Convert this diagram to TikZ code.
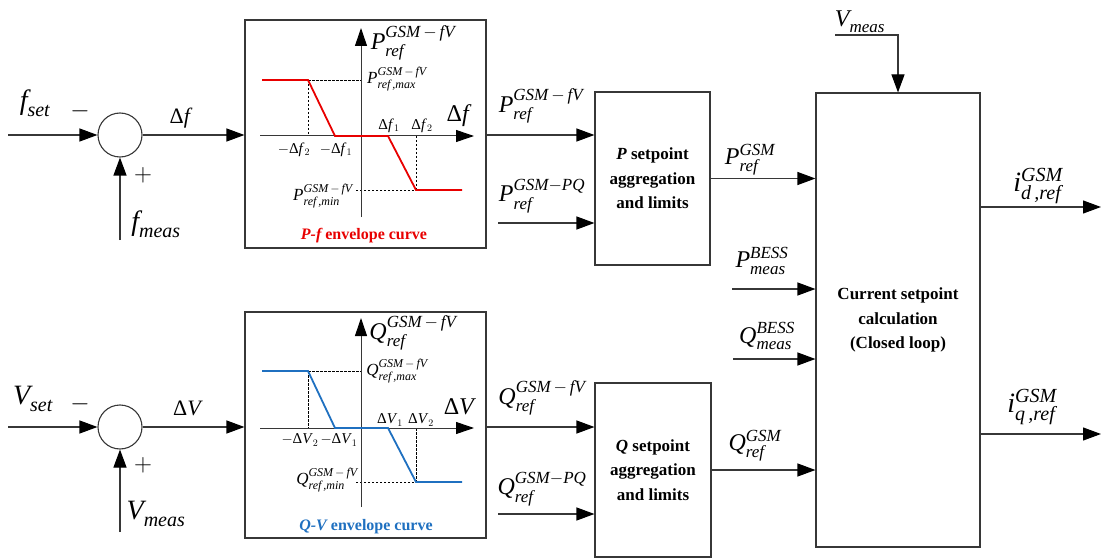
\documentclass[tikz,border=0pt]{standalone}
\usepackage{amsmath}
\usepackage{fontspec}
\setmainfont{Liberation Serif}
\usetikzlibrary{arrows.meta}
\DeclareMathSizes{28}{28}{20}{14}
\DeclareMathSizes{24}{24}{17}{13}
\DeclareMathSizes{22}{22}{15}{11}
\DeclareMathSizes{17}{17}{12}{9}
\DeclareMathSizes{15}{15}{10}{8}
\definecolor{lc}{RGB}{55,55,55}
\definecolor{cred}{RGB}{232,0,0}
\definecolor{cblue}{RGB}{31,112,192}
\newcommand\ii[1]{\textit{#1}}
\newcommand\sym[3]{\ensuremath{\textit{#1}^{#2}_{#3}}}
\begin{document}
\begin{tikzpicture}[x=1pt,y=-1pt,
  ln/.style={draw=lc,line width=1.1pt},
  arr/.style={ln,-{Triangle[length=18pt,width=13pt,color=black]}},
  axarr/.style={draw=lc,line width=1pt,-{Triangle[length=18pt,width=12pt,color=black]}},
  dsh/.style={draw=black,line width=0.6pt,dash pattern=on 2.5pt off 1.5pt},
  blk/.style={ln,inner sep=0pt},
  blktext/.style={blk,font=\fontsize{17}{24.5}\selectfont\bfseries,align=center},
  sumnode/.style={ln,circle,minimum size=44pt,inner sep=0pt},
  huge/.style={inner sep=0pt,font=\fontsize{28}{32}\selectfont},
  big/.style={inner sep=0pt,font=\fontsize{24}{28}\selectfont},
  mid/.style={inner sep=0pt,font=\fontsize{22}{26}\selectfont},
  small/.style={inner sep=0pt,font=\fontsize{17}{20}\selectfont},
  tick/.style={inner sep=0pt,font=\fontsize{15}{18}\selectfont},
  sgn/.style={inner sep=0pt,font=\fontsize{24}{26}\selectfont},
  env/.style={inner sep=0pt,font=\fontsize{16}{18}\selectfont\bfseries}]
\useasboundingbox (0,0) rectangle (1101,559);

% ---------- nodes ----------
\node[sumnode] (s1) at (120,135) {};
\node[sumnode] (s2) at (120,427) {};
\node[blk,minimum width=241pt,minimum height=228pt] (pf) at (365.5,134) {};
\node[blk,minimum width=241pt,minimum height=226pt] (qv) at (365.5,425) {};
\node[blktext,minimum width=115pt,minimum height=173pt] (pb) at (652.5,178.5) {\ii{P} setpoint\\aggregation\\and limits};
\node[blktext,minimum width=116pt,minimum height=174pt] (qb) at (653,470) {\ii{Q} setpoint\\aggregation\\and limits};
\node[blktext,minimum width=164pt,minimum height=454pt] (cb) at (898,320) {Current setpoint\\calculation\\(Closed loop)};

\coordinate (fs) at (8,135);
\coordinate (fm) at (120,240);
\coordinate (vs) at (8,427);
\coordinate (vmb) at (120,532);
\coordinate (ppq) at (498,223);
\coordinate (qpq) at (498,514);
\coordinate (pm) at (732,289);
\coordinate (qm) at (733,359);
\coordinate (vm) at (835,35);
\coordinate (id) at (1101,207);
\coordinate (iq) at (1101,434);

% ---------- connectors ----------
\draw[arr] (fs) -- (s1);
\draw[arr] (fm) -- (s1);
\draw[arr] (s1) -- (pf.west |- s1);
\draw[arr] (pf.east |- s1) -- (pb.west |- s1);
\draw[arr] (ppq) -- (pb.west |- ppq);
\draw[arr] (pb.east) -- (cb.west |- pb.east);
\draw[arr] (pm) -- (cb.west |- pm);
\draw[arr] (qm) -- (cb.west |- qm);
\draw[arr] (qb.east) -- (cb.west |- qb.east);
\draw[arr] (vm) -| (cb.north);
\draw[arr] (cb.east |- id) -- (id);
\draw[arr] (cb.east |- iq) -- (iq);

\draw[arr] (vs) -- (s2);
\draw[arr] (vmb) -- (s2);
\draw[arr] (s2) -- (qv.west |- s2);
\draw[arr] (qv.east |- s2) -- (qb.west |- s2);
\draw[arr] (qpq) -- (qb.west |- qpq);

% ---------- P-f envelope ----------
\draw[dsh] (308,80) -- (361,80) (308,80) -- (308,136);
\draw[dsh] (416,136) -- (416,190) -- (354,190);
\draw[axarr] (361,217) -- (361,28);
\draw[axarr] (260,136) -- (474,136);
\draw[cred,line width=1.8pt] (262,80) -- (308,80) -- (335,136) -- (388,136) -- (416,190) -- (462,190);

% ---------- Q-V envelope ----------
\draw[dsh] (308,371) -- (361,371) (308,371) -- (308,428);
\draw[dsh] (416,428) -- (416,482) -- (354,482);
\draw[axarr] (361,507) -- (361,318);
\draw[axarr] (260,428) -- (474,428);
\draw[cblue,line width=1.8pt] (262,371) -- (308,371) -- (335,428) -- (388,428) -- (416,482) -- (462,482);

% ---------- labels (upper) ----------
\node[huge] at (35,103) {\sym{f}{}{\ii{set}}};
\node[sgn] at (80,111) {$-$};
\node[sgn] at (143,175) {$+$};
\node[huge] at (156,224) {\sym{f}{}{\ii{meas}}};
\node[mid] at (181,118) {Δ\ii{f}};
\node[big] at (413,43) {\sym{P}{\ii{GSM}\,-\,\ii{fV}}{\ii{ref}}};
\node[small] at (397,79) {\sym{P}{\ii{GSM}\,-\,\ii{fV}}{\ii{ref\,,max}}};
\node[big] at (459,116) {Δ\ii{f}};
\node[tick] at (294,150) {$-$Δ\ii{f}$_2$};
\node[tick] at (336,150) {$-$Δ\ii{f}$_1$};
\node[tick] at (389,126) {Δ\ii{f}$_1$};
\node[tick] at (422,126) {Δ\ii{f}$_2$};
\node[small] at (323,196) {\sym{P}{\ii{GSM}\,-\,\ii{fV}}{\ii{ref\,,min}}};
\node[env,text=cred] at (364,236) {\itshape P-f\upshape\ envelope curve};
\node[big] at (541,106) {\sym{P}{\ii{GSM}\,-\,\ii{fV}}{\ii{ref}}};
\node[big] at (542,196) {\sym{P}{\ii{GSM}-\ii{PQ}}{\ii{ref}}};
\node[big] at (750,160) {\sym{P}{\ii{GSM}}{\ii{ref}}};
\node[big] at (860,22) {\sym{V}{}{\ii{meas}}};
\node[big] at (762,261) {\sym{P}{\ii{BESS}}{\ii{meas}}};
\node[big] at (767,336) {\sym{Q}{\ii{BESS}}{\ii{meas}}};
\node[huge] at (1038,186) {\sym{i}{\ii{GSM}}{\ii{d\,,ref}}};
\node[huge] at (1032,407) {\sym{i}{\ii{GSM}}{\ii{q\,,ref}}};
\node[big] at (755,446) {\sym{Q}{\ii{GSM}}{\ii{ref}}};

% ---------- labels (lower) ----------
\node[huge] at (33,399) {\sym{V}{}{\ii{set}}};
\node[sgn] at (80,404) {$-$};
\node[sgn] at (143,465) {$+$};
\node[huge] at (156,514) {\sym{V}{}{\ii{meas}}};
\node[mid] at (188,408) {Δ\ii{V}};
\node[big] at (413,333) {\sym{Q}{\ii{GSM}\,-\,\ii{fV}}{\ii{ref}}};
\node[small] at (397,371) {\sym{Q}{\ii{GSM}\,-\,\ii{fV}}{\ii{ref\,,max}}};
\node[big] at (460,407) {Δ\ii{V}};
\node[tick] at (300,440) {$-$Δ\ii{V}$_2$};
\node[tick] at (339,440) {$-$Δ\ii{V}$_1$};
\node[tick] at (390,420) {Δ\ii{V}$_1$};
\node[tick] at (421,420) {Δ\ii{V}$_2$};
\node[small] at (327,480) {\sym{Q}{\ii{GSM}\,-\,\ii{fV}}{\ii{ref\,,min}}};
\node[env,text=cblue] at (366,527) {\itshape Q-V\upshape\ envelope curve};
\node[big] at (542,398) {\sym{Q}{\ii{GSM}\,-\,\ii{fV}}{\ii{ref}}};
\node[big] at (542,489) {\sym{Q}{\ii{GSM}-\ii{PQ}}{\ii{ref}}};
\end{tikzpicture}
\end{document}
